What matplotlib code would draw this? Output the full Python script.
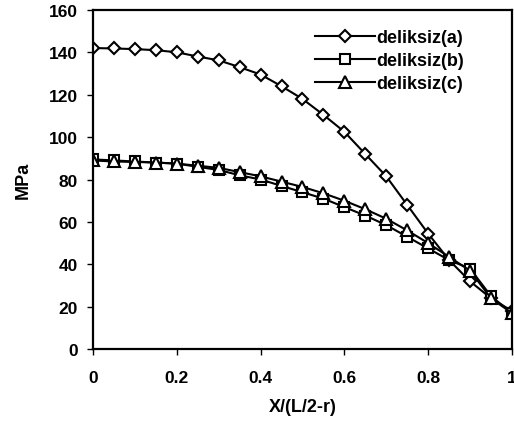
import numpy as np
import matplotlib.pyplot as plt

plt.rcParams['font.family'] = ['Liberation Sans', 'DejaVu Sans']
plt.rcParams['font.weight'] = 'bold'

# veriler
x = np.round(np.arange(0, 1.0001, 0.05), 2)
a = [142, 141.8, 141.5, 141, 140, 138, 136.2, 133, 129.5, 124, 118, 110.5, 102.5,
     92, 81.5, 68, 54.5, 42, 32, 24, 18]
b = [89.5, 89, 88.5, 88, 87.5, 86, 84.5, 82, 80, 77, 74, 71, 67, 63, 58.5,
     53, 47.5, 42, 38, 25, 17]
c = [89, 88.5, 88.3, 88, 87.5, 86.5, 85.5, 83.5, 81.5, 79, 76.5, 73.5, 70, 66,
     61.5, 56, 50, 43.5, 37, 24, 17]

fig = plt.figure(figsize=(5.14, 4.35), dpi=100, facecolor="white")
ax = fig.add_axes([0.181, 0.195, 0.815, 0.78])

ax.plot(x, a, color="black", lw=1.5, marker="D", ms=6.5, mfc="white", mec="black", mew=1.5,
        label="deliksiz(a)")
ax.plot(x, b, color="black", lw=1.5, marker="s", ms=7.5, mfc="white", mec="black", mew=1.5,
        label="deliksiz(b)")
ax.plot(x, c, color="black", lw=1.5, marker="^", ms=8, mfc="white", mec="black", mew=1.5,
        label="deliksiz(c)")

# eksenler
ax.set_xlim(0, 1)
ax.set_ylim(0, 160)
ax.set_xticks([0, 0.2, 0.4, 0.6, 0.8, 1])
ax.set_xticklabels(["0", "0.2", "0.4", "0.6", "0.8", "1"])
ax.set_yticks(range(0, 161, 20))
ax.tick_params(direction="out", length=4, width=1, labelsize=12.5)
ax.tick_params(axis="x", pad=11)
ax.tick_params(axis="y", pad=7)
for s in ax.spines.values():
    s.set_linewidth(1.6)
ax.set_xlabel("X/(L/2-r)", fontsize=13, fontweight="bold", labelpad=9)
ax.set_ylabel("MPa", fontsize=13, fontweight="bold", labelpad=12)

fig.legend(loc="upper left", bbox_to_anchor=(315 / 514, 1 - 30 / 435), frameon=False,
           fontsize=13, handlelength=3.3, labelspacing=0.33, handletextpad=0.1,
           borderpad=0, borderaxespad=0)

fig.savefig("out.png")
